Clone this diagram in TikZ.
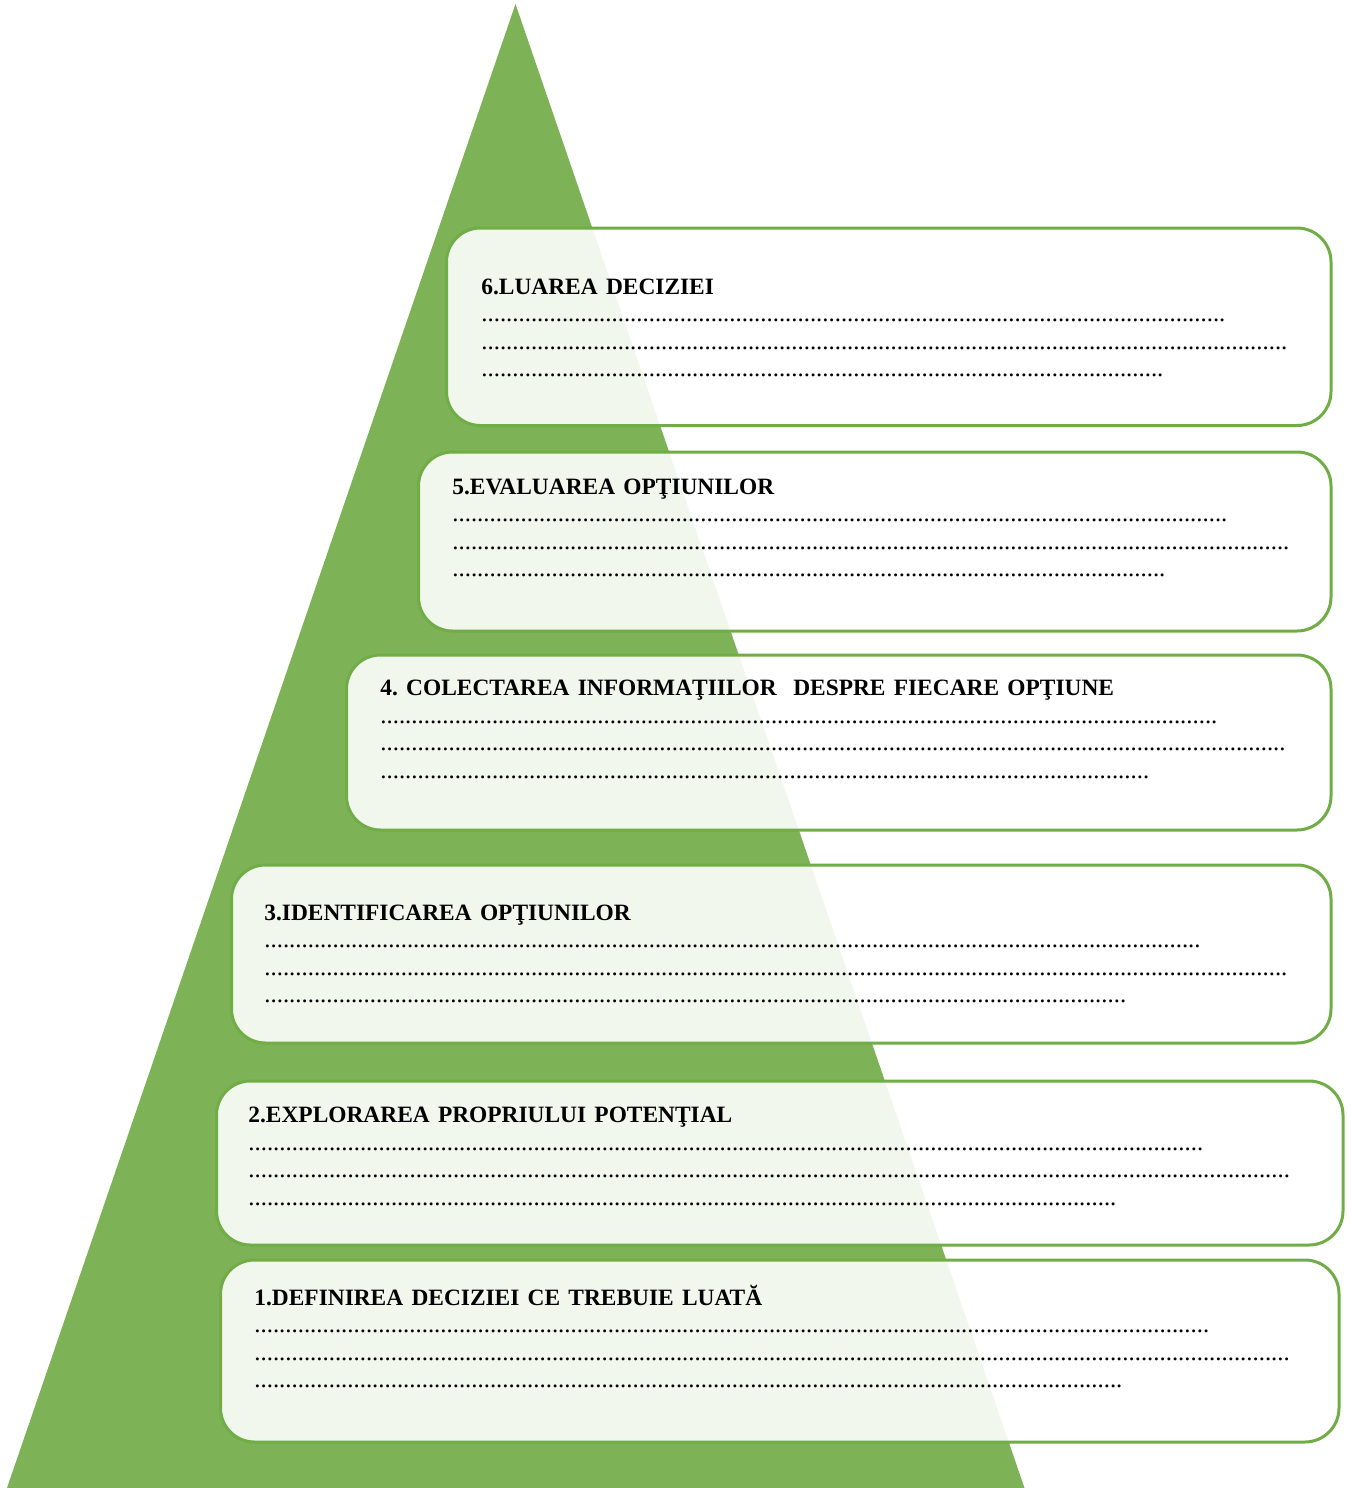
\documentclass[tikz,border=0pt]{standalone}
\usepackage{fontspec}
\setmainfont{Liberation Serif}
\usepackage{tikz}
\definecolor{pyrgreen}{RGB}{126,178,86}
\definecolor{rimgreen}{RGB}{112,173,71}
\newcommand\dotrow[1]{\foreach \k in {1,...,#1}{.}}
\newcommand\steptitle[1]{{\bfseries\fontsize{11.7}{13.8}\selectfont #1}}
\frenchspacing

\begin{document}
\begin{tikzpicture}[x=0.5pt,y=0.5pt,yscale=-1,xscale=1,
  stepbox/.style={draw=rimgreen,line width=1.5pt,fill=white,fill opacity=0.9,rounded corners=17pt},
  steptext/.style={anchor=base west,inner sep=0pt,text width=550pt,align=left,
    font=\fontsize{12.4}{13.8}\selectfont}]
\useasboundingbox (0,0) rectangle (1350,1488);

%Shape: Triangle
\fill [pyrgreen] (515.5,4) -- (1024.5,1488) -- (7,1488) -- cycle ;

%Rounded Rect: step 6
\draw [stepbox] (446.5,228) rectangle (1331,425.5) ;
%Rounded Rect: step 5
\draw [stepbox] (418.5,452) rectangle (1331,631) ;
%Rounded Rect: step 4
\draw [stepbox] (346.5,655) rectangle (1331,830) ;
%Rounded Rect: step 3
\draw [stepbox] (231.5,865) rectangle (1331,1043) ;
%Rounded Rect: step 2
\draw [stepbox] (216.5,1081) rectangle (1343,1245) ;
%Rounded Rect: step 1
\draw [stepbox] (220.5,1260) rectangle (1339,1442) ;

% Text Node
\node [steptext] (t6) at (481,294) {\steptitle{6.LUAREA DECIZIEI}\\ \dotrow{120}\\ \dotrow{130}\\ \dotrow{110}};
% Text Node
\node [steptext] (t5) at (452,494) {\steptitle{5.EVALUAREA OPŢIUNILOR}\\ \dotrow{125}\\ \dotrow{135}\\ \dotrow{115}};
% Text Node
\node [steptext] (t4) at (380,695.5) {\steptitle{4. COLECTAREA INFORMAŢIILOR\ \ DESPRE FIECARE OPŢIUNE}\\ \dotrow{135}\\ \dotrow{146}\\ \dotrow{124}};
% Text Node
\node [steptext] (t3) at (264,920) {\steptitle{3.IDENTIFICAREA OPŢIUNILOR}\\ \dotrow{151}\\ \dotrow{165}\\ \dotrow{139}};
% Text Node
\node [steptext] (t2) at (248,1122.5) {\steptitle{2.EXPLORAREA PROPRIULUI POTENŢIAL}\\ \dotrow{154}\\ \dotrow{168}\\ \dotrow{140}};
% Text Node
\node [steptext] (t1) at (254,1305) {\steptitle{1.DEFINIREA DECIZIEI CE TREBUIE LUATĂ}\\ \dotrow{154}\\ \dotrow{167}\\ \dotrow{140}};

\end{tikzpicture}
\end{document}
